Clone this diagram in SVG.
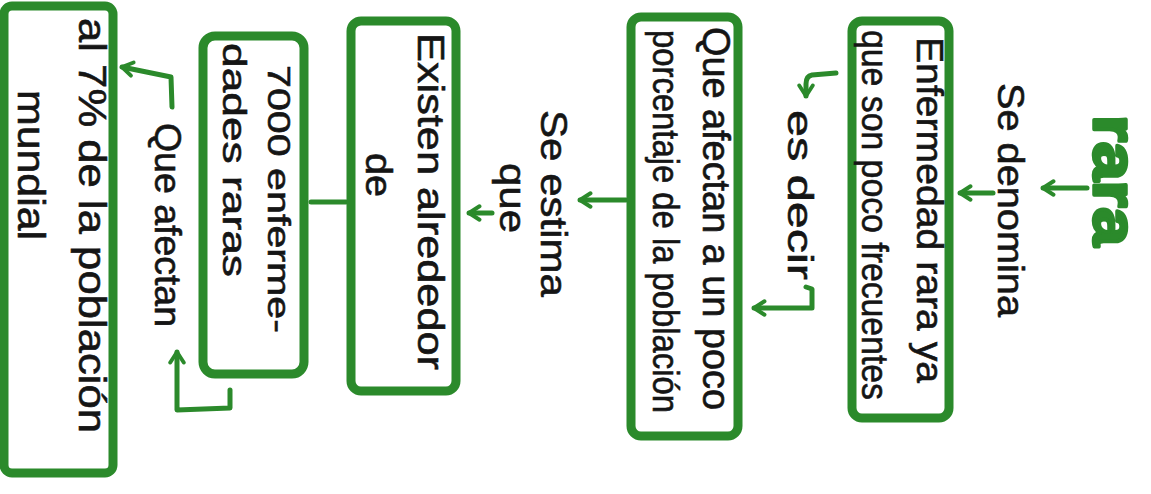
<svg xmlns="http://www.w3.org/2000/svg" width="1151" height="494" viewBox="0 0 1151 494">
<style>
.bg{fill:#ffffff}
.box{fill:#ffffff;stroke:#2b8a2b;stroke-width:9;stroke-linejoin:round}
.ln{fill:none;stroke:#2b8a2b;stroke-width:5;stroke-linecap:round;stroke-linejoin:round}
.t{font-family:"Liberation Sans",Arial,sans-serif;fill:#151515;stroke:#151515;stroke-width:0.6}
.title{font-family:"Liberation Sans",Arial,sans-serif;font-weight:bold;fill:#2b8a2b;stroke:#2b8a2b;stroke-width:3.5;stroke-linejoin:round}
</style>
<defs>
<marker id="ah" viewBox="0 0 12 12" refX="10" refY="6" markerWidth="18" markerHeight="18" orient="auto" markerUnits="userSpaceOnUse">
<path d="M3 1.5 L10 6 L3 10.5" fill="none" stroke="#2b8a2b" stroke-width="2.6" stroke-linecap="round" stroke-linejoin="round"/>
</marker>
</defs>
<rect class="bg" x="0" y="0" width="1151" height="494"/>

<g id="connectors">
  <path class="ln" d="M1087 188 L1043 188" marker-end="url(#ah)"/>
  <text class="t" font-size="37" transform="translate(998,83) rotate(90)" textLength="234" lengthAdjust="spacingAndGlyphs">Se denomina</text>
  <path class="ln" d="M993 193 L960 193" marker-end="url(#ah)"/>

  <path class="ln" d="M836 73 L812 75 Q806 76 806 84 L806 96" marker-end="url(#ah)"/>
  <text class="t" font-size="35" transform="translate(788,110) rotate(90)" textLength="170" lengthAdjust="spacingAndGlyphs">es decir</text>
  <path class="ln" d="M806 287 L812 289 L812 308 L754 308" marker-end="url(#ah)"/>

  <path class="ln" d="M626 200 L580 200" marker-end="url(#ah)"/>
  <text class="t" font-size="37" transform="translate(541,110) rotate(90)" textLength="187" lengthAdjust="spacingAndGlyphs">Se estima</text>
  <text class="t" font-size="36" transform="translate(500,163) rotate(90)" textLength="70" lengthAdjust="spacingAndGlyphs">que</text>
  <path class="ln" d="M492 213 L469 213" marker-end="url(#ah)"/>

  <path class="ln" d="M346 202 L311 202"/>

  <path class="ln" d="M230 390 L230 408 L177 410 L177 352" marker-end="url(#ah)"/>
  <text class="t" font-size="36" transform="translate(155,123) rotate(90)" textLength="204" lengthAdjust="spacingAndGlyphs">Que afectan</text>
  <path class="ln" d="M172 107 L171 77 L122 67" marker-end="url(#ah)"/>
</g>

<g id="n-rara">
  <text class="title" font-size="62" transform="translate(1094,115) rotate(90)" textLength="131" lengthAdjust="spacingAndGlyphs">rara</text>
</g>

<g id="n-enfermedad">
  <rect class="box" x="852" y="21" width="97" height="397" rx="10"/>
  <text class="t" font-size="37" transform="translate(917,37) rotate(90)" textLength="346" lengthAdjust="spacingAndGlyphs">Enfermedad rara ya</text>
  <text class="t" font-size="37" transform="translate(862,30) rotate(90)" textLength="370" lengthAdjust="spacingAndGlyphs">que son poco frecuentes</text>
</g>

<g id="n-porcentaje">
  <rect class="box" x="631" y="17" width="107" height="419" rx="10"/>
  <text class="t" font-size="38" transform="translate(703,27) rotate(90)" textLength="383" lengthAdjust="spacingAndGlyphs">Que afectan a un poco</text>
  <text class="t" font-size="37" transform="translate(653,30) rotate(90)" textLength="383" lengthAdjust="spacingAndGlyphs">porcentaje de la población</text>
</g>

<g id="n-existen">
  <rect class="box" x="351" y="21" width="105" height="370" rx="10"/>
  <text class="t" font-size="36" transform="translate(418,33) rotate(90)" textLength="337" lengthAdjust="spacingAndGlyphs">Existen alrededor</text>
  <text class="t" font-size="36" transform="translate(366,153) rotate(90)" textLength="44" lengthAdjust="spacingAndGlyphs">de</text>
</g>

<g id="n-7000">
  <rect class="box" x="203" y="36" width="101" height="338" rx="12"/>
  <text class="t" font-size="32" transform="translate(268,65) rotate(90)" textLength="268" lengthAdjust="spacingAndGlyphs">7000 enferme-</text>
  <text class="t" font-size="34" transform="translate(223,43) rotate(90)" textLength="234" lengthAdjust="spacingAndGlyphs">dades raras</text>
</g>

<g id="n-poblacion-mundial">
  <rect class="box" x="4" y="6" width="109" height="467" rx="8"/>
  <text class="t" font-size="39" transform="translate(79,18) rotate(90)" textLength="415" lengthAdjust="spacingAndGlyphs">al 7% de la población</text>
  <text class="t" font-size="38" transform="translate(18,90) rotate(90)" textLength="150" lengthAdjust="spacingAndGlyphs">mundial</text>
</g>
</svg>
